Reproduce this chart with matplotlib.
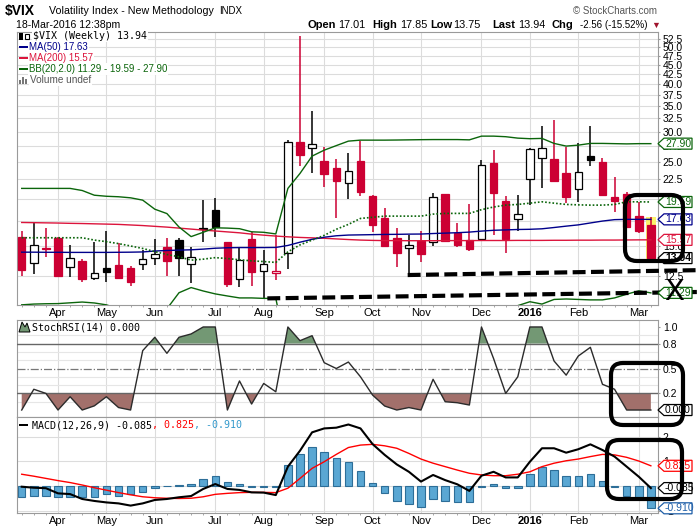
import matplotlib.pyplot as plt
import numpy as np
from matplotlib.patches import Rectangle, FancyBboxPatch, Polygon
from matplotlib.transforms import IdentityTransform
from matplotlib.ticker import NullLocator, FormatStrFormatter

plt.rcParams['font.family'] = ['Liberation Sans', 'DejaVu Sans']

# weekly candles, week of 16-Mar-2015 .. week of 14-Mar-2016
opens = [15.80, 13.50, 14.84, 15.74, 13.18, 13.66, 12.33, 13.12, 13.36, 13.12,
         13.42, 13.92, 14.90, 15.55, 13.42, 16.75, 18.65, 15.36, 12.25, 15.64,
         12.86, 12.71, 14.34, 28.11, 27.10, 25.05, 24.01, 21.92, 25.10, 20.30,
         17.80, 15.74, 14.78, 15.42, 15.33, 20.55, 16.25, 15.55, 15.61, 24.79,
         19.69, 17.63, 22.46, 25.51, 25.40, 23.34, 21.22, 25.87, 24.94, 20.14,
         20.55, 17.98, 17.01]
highs = [16.42, 17.20, 16.72, 15.80, 15.08, 13.86, 15.36, 16.42, 15.24, 13.28,
         14.63, 15.64, 15.74, 15.71, 14.90, 19.81, 20.02, 15.40, 14.78, 16.35,
         14.63, 16.03, 28.50, 53.53, 33.98, 27.27, 25.36, 26.39, 28.38, 20.42,
         18.84, 16.72, 16.03, 16.42, 20.71, 20.60, 17.20, 19.34, 25.25, 26.82,
         20.30, 20.42, 27.10, 31.03, 32.18, 27.37, 27.94, 31.03, 25.60, 22.82,
         20.84, 19.61, 17.85]
lows = [12.52, 12.63, 14.05, 12.45, 12.45, 12.08, 12.20, 12.08, 12.30, 11.76,
        12.96, 13.36, 12.52, 12.52, 11.96, 15.39, 15.86, 11.72, 11.72, 11.79,
        10.92, 12.20, 13.02, 24.39, 23.38, 21.48, 17.80, 19.97, 20.34, 16.35,
        15.00, 13.22, 12.58, 13.61, 15.02, 15.40, 14.94, 14.57, 15.55, 16.03,
        14.40, 16.45, 19.26, 21.35, 22.14, 19.49, 19.61, 24.35, 20.40, 18.46,
        16.86, 16.25, 13.75]
closes = [12.96, 15.06, 14.72, 12.52, 13.92, 12.30, 12.71, 12.83, 12.37, 12.08,
          13.83, 14.26, 13.71, 13.96, 14.02, 16.65, 16.82, 11.93, 13.77, 12.78,
          13.42, 12.89, 28.11, 26.10, 27.77, 23.15, 22.27, 23.58, 20.84, 17.06,
          15.02, 14.40, 15.06, 14.28, 20.14, 15.45, 15.08, 14.75, 24.45, 20.71,
          15.67, 18.17, 26.94, 27.10, 22.27, 20.21, 23.43, 25.29, 20.46, 19.73,
          16.86, 16.45, 13.94]

ma50 = [14.45, 14.45, 14.44, 14.44, 14.43, 14.43, 14.43, 14.43, 14.44, 14.45,
        14.47, 14.55, 14.60, 14.63, 14.66, 14.72, 14.80, 14.84, 14.86, 14.86,
        14.86, 14.87, 15.05, 15.35, 15.62, 15.82, 15.96, 16.03, 16.05, 16.07,
        16.09, 16.10, 16.12, 16.13, 16.18, 16.22, 16.26, 16.32, 16.42, 16.50,
        16.54, 16.58, 16.60, 16.65, 16.78, 16.92, 17.05, 17.25, 17.45, 17.60,
        17.63, 17.63, 17.63]
ma200 = [17.30, 17.28, 17.26, 17.24, 17.21, 17.19, 17.16, 17.13, 17.10, 17.04,
         16.98, 16.90, 16.82, 16.72, 16.62, 16.52, 16.43, 16.34, 16.25, 16.12,
         16.02, 15.93, 15.86, 15.80, 15.76, 15.72, 15.66, 15.60, 15.55, 15.52,
         15.50, 15.50, 15.49, 15.49, 15.49, 15.50, 15.50, 15.50, 15.51, 15.51,
         15.51, 15.52, 15.52, 15.52, 15.53, 15.53, 15.54, 15.54, 15.55, 15.55,
         15.56, 15.57, 15.57]
bb_upper = [21.27, 21.27, 21.27, 21.27, 21.27, 21.00, 20.41, 20.28, 20.22, 20.09,
            19.81, 18.75, 18.26, 16.83, 15.88, 16.30, 16.75, 16.72, 16.66, 16.35,
            16.30, 16.14, 21.27, 23.29, 25.87, 26.82, 27.57, 28.33, 28.50, 28.50,
            28.50, 28.52, 28.55, 28.58, 28.60, 28.60, 28.60, 28.55, 29.20, 29.20,
            29.10, 28.85, 28.75, 28.80, 27.94, 27.49, 27.65, 27.94, 27.94, 27.90,
            27.86, 27.90, 27.90]
bb_mid = [15.77, 15.77, 15.77, 15.77, 15.77, 15.77, 15.55, 15.40, 15.22, 15.00,
          14.78, 14.50, 14.25, 14.05, 13.77, 13.85, 13.98, 13.90, 13.80, 13.71,
          13.65, 13.58, 14.48, 15.10, 15.55, 16.00, 16.60, 17.10, 17.73, 17.85,
          17.98, 17.98, 17.98, 17.98, 18.20, 18.28, 18.28, 18.28, 18.70, 19.00,
          19.22, 19.30, 19.45, 19.61, 19.45, 19.30, 19.25, 19.22, 19.22, 19.30,
          19.61, 19.61, 19.59]
bb_lower = [10.50, 10.55, 10.57, 10.58, 10.63, 10.68, 10.62, 10.50, 10.25, 9.95,
            9.80, 10.20, 10.25, 11.30, 11.66, 11.42, 11.22, 11.08, 10.95, 10.95,
            10.92, 10.92, 7.70, 6.90, 5.25, 5.20, 5.65, 5.90, 6.95, 7.20,
            7.45, 7.45, 7.40, 7.40, 7.80, 7.95, 7.95, 8.00, 8.20, 8.80,
            9.35, 10.45, 10.70, 10.55, 10.85, 10.88, 10.85, 10.82, 10.82, 10.95,
            11.20, 11.43, 11.29]

stoch_rsi = [0.00, 0.25, 0.20, 0.00, 0.16, 0.00, 0.05, 0.16, 0.03, 0.00,
             0.715, 0.876, 0.683, 0.876, 0.916, 1.0, 1.0, 0.0, 0.35, 0.072,
             0.32, 0.22, 1.0, 0.835, 0.895, 0.57, 0.50, 0.578, 0.40, 0.18,
             0.048, 0.0, 0.03, 0.0, 0.37, 0.10, 0.088, 0.06, 1.0, 0.62,
             0.20, 0.40, 1.0, 1.0, 0.59, 0.42, 0.65, 0.755, 0.31, 0.25,
             0.0, 0.0, 0.0]

macd_line = [-0.03, -0.07, -0.09, -0.30, -0.33, -0.53, -0.61, -0.67, -0.71, -0.80,
             -0.71, -0.57, -0.53, -0.46, -0.41, -0.12, 0.08, -0.12, -0.16, -0.26,
             -0.27, -0.37, 0.79, 1.44, 2.19, 2.35, 2.38, 2.51, 2.35, 1.71,
             1.27, 0.88, 0.58, 0.18, 0.45, 0.24, 0.07, -0.20, 0.42, 0.58,
             0.35, 0.35, 0.99, 1.54, 1.54, 1.36, 1.50, 1.70, 1.47, 1.20,
             0.79, 0.38, -0.085]
macd_signal = [0.48, 0.40, 0.31, 0.22, 0.14, 0.04, -0.07, -0.17, -0.27, -0.36,
               -0.44, -0.48, -0.50, -0.51, -0.50, -0.44, -0.34, -0.30, -0.27, -0.26,
               -0.26, -0.27, -0.09, 0.31, 0.72, 0.99, 1.29, 1.57, 1.67, 1.70,
               1.64, 1.54, 1.33, 1.10, 0.93, 0.79, 0.65, 0.52, 0.45, 0.42,
               0.42, 0.48, 0.58, 0.79, 0.93, 1.03, 1.10, 1.20, 1.29, 1.27,
               1.17, 1.02, 0.825]
macd_hist = [-0.46, -0.40, -0.40, -0.46, -0.44, -0.44, -0.44, -0.33, -0.40, -0.33,
             -0.23, -0.09, -0.02, 0.04, 0.08, 0.27, 0.41, 0.15, 0.10, -0.03,
             -0.03, -0.05, 0.86, 1.29, 1.58, 1.37, 1.13, 0.97, 0.63, 0.14,
             -0.30, -0.61, -0.75, -0.87, -0.53, -0.61, -0.67, -0.67, -0.04, 0.10,
             -0.09, -0.09, 0.49, 0.79, 0.65, 0.41, 0.41, 0.49, 0.20, -0.04,
             -0.40, -0.53, -0.91]

month_pos = [3, 7, 11, 16, 20, 25, 29, 33, 38, 42, 46, 51]
month_labels = ['Apr', 'May', 'Jun', 'Jul', 'Aug', 'Sep', 'Oct', 'Nov', 'Dec', '2016', 'Feb', 'Mar']
price_ticks = [12.5, 15.0, 17.5, 20.0, 22.5, 25.0, 27.5, 30.0, 32.5, 35.0,
               37.5, 40.0, 42.5, 45.0, 47.5, 50.0, 52.5]
rsi_ticks = [0.0, 0.2, 0.5, 0.8, 1.0]
macd_ticks = [-1, 0, 1, 2]

# hand drawn support lines: (week index, price)
trend_upper = [(31.9, 12.58), (56.1, 12.96)]
trend_lower = [(20.3, 10.92), (55.8, 11.35)]

RED = '#cc0033'
GREEN = '#0b650b'
NAVY = '#00008b'
CRIMSON = '#dc143c'

W, H = 700, 530
LEFT, RIGHT = 17, 658
PX = IdentityTransform()
fig = plt.figure(figsize=(W / 100, H / 100), dpi=100)


def panel(top, bottom):
    return fig.add_axes([LEFT / W, 1 - bottom / H, (RIGHT - LEFT) / W, (bottom - top) / H])


ax = panel(32, 305)
ax_rsi = panel(320, 417)
ax_macd = panel(417, 513)
x = np.arange(len(closes))

for a in (ax, ax_rsi, ax_macd):
    a.set_xlim(-0.39, 52.59)
    for s in a.spines.values():
        s.set_color('#9a9a9a')
        s.set_linewidth(0.8)
    a.yaxis.tick_right()
    a.set_xticks(month_pos)
    a.set_xticks(x, minor=True)
    a.tick_params(axis='x', which='major', length=0, labelsize=8, pad=2.5)
    a.tick_params(axis='x', which='minor', length=1.5, color='#999999')
    a.tick_params(axis='y', which='major', length=1.5, color='#999999', labelsize=7.5, pad=2)
    a.tick_params(axis='y', which='minor', length=0)
    a.grid(True, which='major', color='#dcdcdc', lw=0.8)
    a.set_axisbelow(True)

for a in (ax, ax_macd):
    a.set_xticklabels(month_labels)
    a.get_xticklabels()[9].set_fontweight('bold')
ax_rsi.tick_params(axis='x', labelbottom=False)

# ---- price panel
ax.set_yscale('log')
ax.set_ylim(10.49, 54.9)
ax.set_yticks(price_ticks)
ax.yaxis.set_minor_locator(NullLocator())
ax.yaxis.set_major_formatter(FormatStrFormatter('%.1f'))

ax.add_patch(Rectangle((52 - 0.42, lows[52]), 0.84, highs[52] - lows[52],
                       facecolor='#fbf36b', edgecolor='none', zorder=2))
for i in x:
    o, h, l, c = opens[i], highs[i], lows[i], closes[i]
    prev = closes[i - 1] if i > 0 else o
    col = 'black' if c >= prev else RED
    ax.vlines(i, l, h, color=col, lw=1.1, zorder=3)
    face = 'white' if c > o else col
    ax.add_patch(Rectangle((i - 0.31, min(o, c)), 0.62, abs(c - o),
                           facecolor=face, edgecolor=col, lw=0.9, zorder=4))

ax.plot(x, ma200, color=CRIMSON, lw=1, zorder=5)
ax.plot(x, ma50, color=NAVY, lw=1, zorder=5)
ax.plot(x, bb_upper, color=GREEN, lw=1, zorder=5)
ax.plot(x, bb_lower, color=GREEN, lw=1, zorder=5)
ax.plot(x, bb_mid, color=GREEN, lw=1.2, ls=(0, (1, 1.2)), zorder=5)

for tl in (trend_upper, trend_lower):
    xs, ys = zip(*tl)
    ax.plot(xs, ys, color='black', lw=3, dashes=(3.1, 1.3), clip_on=False,
            solid_capstyle='butt', dash_capstyle='butt', zorder=12)

# ---- StochRSI panel
srsi = np.array(stoch_rsi)
ax_rsi.set_ylim(-0.084, 1.084)
ax_rsi.set_yticks(rsi_ticks)
ax_rsi.set_yticks(np.arange(0.1, 1.0, 0.1), minor=True)
ax_rsi.yaxis.set_major_formatter(FormatStrFormatter('%.1f'))
ax_rsi.grid(True, which='minor', axis='y', color='#e6e6e6', lw=0.8)
ax_rsi.grid(False, which='major', axis='y')
ax_rsi.fill_between(x, srsi, 0.8, where=srsi >= 0.8, interpolate=True, color='#739874', lw=0, zorder=2)
ax_rsi.fill_between(x, srsi, 0.2, where=srsi <= 0.2, interpolate=True, color='#a2706b', lw=0, zorder=2)
ax_rsi.axhline(0.8, color='#666666', lw=1, zorder=3)
ax_rsi.axhline(0.2, color='#666666', lw=1, zorder=3)
ax_rsi.axhline(0.5, color='#777777', lw=0.9, ls='-.', zorder=3)
ax_rsi.plot(x, srsi, color='#2b2b2b', lw=1, zorder=4)

# ---- MACD panel
ax_macd.set_ylim(-1.102, 2.816)
ax_macd.set_yticks(macd_ticks)
ax_macd.bar(x, macd_hist, width=0.62, color='#5aa7d3', edgecolor='#2d6e98', lw=0.8, zorder=2)
ax_macd.plot(x, macd_signal, color='red', lw=1, zorder=3)
ax_macd.plot(x, macd_line, color='black', lw=1.5, zorder=4)


# ---- right-hand value tags
def tag(a, val, text, color, bold=False):
    yd = a.transData.transform((0, val))[1]
    pts = [(RIGHT, yd), (RIGHT + 6, yd + 5.5), (RIGHT + 34, yd + 5.5),
           (RIGHT + 34, yd - 5.5), (RIGHT + 6, yd - 5.5)]
    fig.add_artist(Polygon(pts, closed=True, transform=PX, facecolor='white',
                           edgecolor=color, lw=0.9, zorder=20))
    fig.text(RIGHT + 7, yd, text, transform=PX, color=color, fontsize=7.5,
             va='center', ha='left', fontweight='bold' if bold else 'normal', zorder=21)


tag(ax, 27.90, '27.90', GREEN)
tag(ax, 19.59, '19.59', GREEN)
tag(ax, 17.63, '17.63', NAVY)
tag(ax, 15.57, '15.57', CRIMSON)
tag(ax, 13.94, '13.94', 'black', bold=True)
tag(ax, 11.29, '11.29', GREEN)
tag(ax_rsi, 0.0, '0.000', 'black')
tag(ax_macd, 0.825, '0.825', 'red')
tag(ax_macd, -0.085, '-0.085', 'black')
tag(ax_macd, -0.91, '-0.910', '#1f5fa8')


def ftext(px, py, s, **kw):
    return fig.text(px, H - py, s, transform=PX, va='center', ha='left', **kw)


# ---- header
ftext(5, 10.5, '$VIX', fontsize=10, fontweight='bold')
ftext(49, 11, 'Volatility Index - New Methodology', fontsize=7.7)
ftext(219, 11.5, 'INDX', fontsize=7)
ftext(16, 25, '18-Mar-2016 12:38pm', fontsize=7.6)
ftext(573, 11, '\u00a9 StockCharts.com', fontsize=7, color='#555555')
ftext(307, 25, 'Open', fontsize=8, fontweight='bold')
ftext(338, 25, '17.01', fontsize=7.8)
ftext(372, 25, 'High', fontsize=8, fontweight='bold')
ftext(400, 25, '17.85', fontsize=7.8)
ftext(430, 25, 'Low', fontsize=8, fontweight='bold')
ftext(453, 25, '13.75', fontsize=7.8)
ftext(492, 25, 'Last', fontsize=8, fontweight='bold')
ftext(518, 25, '13.94', fontsize=7.8)
ftext(552, 25, 'Chg', fontsize=8, fontweight='bold')
ftext(580, 25, '-2.56 (-15.52%)', fontsize=7)
ftext(651, 25, '\u25bc', fontsize=6.5, color='#a0142d')

# ---- in-panel legends
mono = dict(family='DejaVu Sans Mono', fontsize=7.2)
fig.add_artist(Rectangle((19, H - 40), 4, 7, transform=PX, facecolor='black', zorder=20))
fig.add_artist(Rectangle((25, H - 39), 4, 5, transform=PX, facecolor='white', edgecolor='black', lw=0.8, zorder=20))
ftext(33, 36, '$VIX (Weekly) 13.94', color='black', zorder=20,
      bbox=dict(facecolor='white', edgecolor='none', pad=0.6), **mono)
for yy, s, colr in [(47, 'MA(50) 17.63', NAVY), (58, 'MA(200) 15.57', CRIMSON),
                    (69, 'BB(20,2.0) 11.29 - 19.59 - 27.90', GREEN)]:
    fig.add_artist(Rectangle((19, H - yy - 1), 9, 2.2, transform=PX, facecolor=colr, zorder=20))
    ftext(29, yy, s, color=colr, fontsize=7, zorder=20,
          bbox=dict(facecolor='white', edgecolor='none', pad=0.6))
for k, bh in enumerate([4, 7, 5]):
    fig.add_artist(Rectangle((19 + 3 * k, H - 84), 2, bh, transform=PX, facecolor='#777777', zorder=20))
ftext(30, 80, 'Volume undef', color='#555555', fontsize=7.2, zorder=20,
      bbox=dict(facecolor='white', edgecolor='none', pad=0.6))

fig.add_artist(Polygon([(19, H - 332), (22, H - 322), (25, H - 327), (27, H - 323), (30, H - 332)],
                       closed=True, transform=PX, facecolor='#739874', edgecolor='black', lw=0.7, zorder=20))
ftext(32, 327, 'StochRSI(14) 0.000', color='black', zorder=20, **mono)

fig.add_artist(Rectangle((19, H - 426), 9, 2.2, transform=PX, facecolor='black', zorder=20))
t1 = ftext(32, 425, 'MACD(12,26,9) -0.085', color='black', zorder=20, **mono)
t2 = ax_macd.annotate(', 0.825', xy=(1, 0), xycoords=t1, va='bottom', ha='left', color='red', **mono)
ax_macd.annotate(', -0.910', xy=(1, 0), xycoords=t2, va='bottom', ha='left', color='#3399cc', **mono)

# ---- hand drawn markup
for (bx0, by0, bx1, by1) in [(625, 195, 683, 261), (611, 363, 683, 425), (607, 440, 682, 499)]:
    fig.add_artist(FancyBboxPatch((bx0, H - by1), bx1 - bx0, by1 - by0,
                                  boxstyle='round,pad=0,rounding_size=12', transform=PX,
                                  fill=False, edgecolor='black', lw=3, zorder=30))
fig.text(674, H - 292, 'X', transform=PX, fontsize=21, family='DejaVu Sans',
         ha='center', va='center', color='black', zorder=31)

fig.savefig('out.png', dpi=100)
